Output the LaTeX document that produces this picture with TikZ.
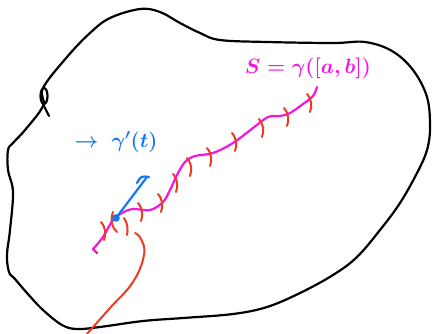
\documentclass[tikz,border=0pt]{standalone}
\usepackage{amsmath,amssymb}
\usepackage{xcolor}
\usepackage{tikz}
\usetikzlibrary{arrows.meta,positioning,calc}

\definecolor{penmagenta}{RGB}{248,20,222}
\definecolor{penblue}{RGB}{20,120,245}
\definecolor{penred}{RGB}{238,58,36}

\begin{document}
\begin{tikzpicture}[
        x=1pt, y=-1pt,
        outline/.style={
            draw=black,
            line width=2.2pt,
            line cap=round,
            line join=round
        },
        pathline/.style={
            draw=penmagenta,
            line width=2.2pt,
            line cap=round,
            line join=round
        },
        tick/.style={
            draw=penred,
            line width=2pt,
            line cap=round
        },
        vecline/.style={
            draw=penblue,
            line width=2.2pt,
            line cap=round
        },
        handlabel/.style={
            font=\fontsize{22}{26}\selectfont\boldmath,
            inner sep=0pt
        }
    ]
        \useasboundingbox (0,0) rectangle (433,333);

        % region boundary
        \draw[outline] plot[smooth cycle, tension=0.6] coordinates {
            (43,88) (67,57) (90,33) (110,18) (140,9) (160,12) (180,23)
            (200,33) (220,40) (267,42) (333,43) (365,42) (392,51) (413,70)
            (427,97) (430,127) (427,150) (417,173) (400,203) (380,230)
            (357,257) (333,275) (300,293) (267,307) (233,314) (183,318)
            (143,321) (100,327) (77,329) (62,325) (43,310) (27,293)
            (15,279) (9,272) (7,255) (10,230) (13,192) (8,170) (8,150)
            (13,143) (25,130) (43,106)};
        \draw[outline] (44,96) ellipse [x radius=3.5, y radius=8];
        \draw[outline] (43,104) -- (49,116);

        % the curve S
        \draw[pathline] (97,253) -- (93,249) plot[smooth, tension=0.6] coordinates {
            (93,249) (103,237) (113,220) (122,213) (133,209) (150,210)
            (163,202) (170,190) (177,175) (185,162) (195,156) (213,153)
            (233,143) (253,128) (268,117) (280,116) (290,113) (303,104)
            (313,96) (317,87)};

        % subdivision marks
        \foreach \p in {(103,231),(140,212),(160,203),(175,183),
                        (189,167),(209,157),(234,142),(261,128),(286,117),(309,103)}
            \draw[tick, shift={\p}] (-2,-9) .. controls (3,-3) and (3,3) .. (1,9);
        \draw[tick] (113,212) .. controls (110,220) and (112,228) .. (117,232);
        \draw[tick] (124,218) .. controls (128,224) and (128,230) .. (127,235);

        % long red pointer
        \draw[tick] plot[smooth, tension=0.7] coordinates {
            (86,335) (110,308) (133,282) (144,255) (141,239) (135,233)};

        % tangent vector
        \coordinate (base) at (116,218);
        \coordinate (tip) at (147,177);
        \fill[penblue] (base) circle (3.8);
        \draw[vecline] (base) -- (tip);
        \draw[vecline] (137,183) .. controls (141,176) .. (149,177);

        % labels
        \node[handlabel, text=penmagenta] (setlabel) at (308,68) {$S=\gamma([a,b])$};
        \node[handlabel, text=penblue] (veclabel) at (116,142) {$\rightarrow\;\gamma'(t)$};

    \end{tikzpicture}
\end{document}
